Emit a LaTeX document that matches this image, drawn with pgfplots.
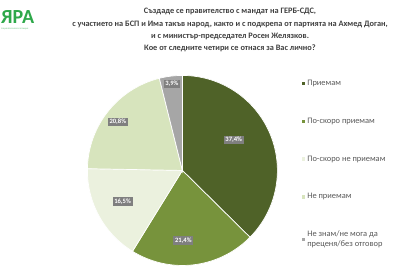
\documentclass[border=0pt]{standalone}
\usepackage{pgfplots}
\pgfplotsset{compat=1.18}
\usepackage{fontspec}
\setmainfont{Carlito}
\definecolor{c1}{HTML}{4F6228}
\definecolor{c2}{HTML}{77933C}
\definecolor{c3}{HTML}{EBF1DE}
\definecolor{c4}{HTML}{D7E4BD}
\definecolor{c5}{HTML}{A6A6A6}
\definecolor{lbl}{HTML}{7F7F7F}
\definecolor{ttl}{HTML}{404040}
\definecolor{leg}{HTML}{595959}
\definecolor{logo}{HTML}{2EA84A}
\begin{document}
\begin{tikzpicture}[x=1pt,y=1pt]
\clip (0,0) rectangle (393,274);
\fill[white] (0,0) rectangle (393,274);
% logo
\node[anchor=base west, text=logo, font=\fontsize{20}{20}\selectfont\bfseries, inner sep=0pt] at (1,250.5) {ЯРА};
\node[anchor=base east, text=logo, font=\fontsize{20}{20}\selectfont\bfseries, inner sep=0pt] at (1.5,250.5) {М};
\node[anchor=north west, text=logo!70, font=\fontsize{2.6}{3}\selectfont, inner sep=0pt] at (1,245.5) {социологическа агенция};
% title
\node[anchor=north, align=center, text=ttl, font=\fontsize{8.3}{12.4}\selectfont\bfseries, inner sep=0pt] at (230,266)
{Създаде се правителство с мандат на ГЕРБ-СДС,\\
с участието на БСП и Има такъв народ, както и с подкрепа от партията на Ахмед Доган,\\
и с министър-председател Росен Желязков.\\
Кое от следните четири се отнася за Вас лично?};
\begin{axis}[
  anchor=origin, at={(192,109)},
  x=95pt, y=95pt,
  xmin=-1.05, xmax=1.05, ymin=-1.05, ymax=1.05,
  hide axis, clip=false,
  legend style={draw=none, fill=none, at={(1.098,0.963)}, anchor=north west,
    font=\fontsize{8.4}{10}\selectfont, text=leg, row sep=26.8pt,
    cells={anchor=west, align=left}, inner sep=0pt},
  legend image code/.code={\fill[#1, draw=none] (0pt,-1.7pt) rectangle (3.4pt,1.7pt);},
]
\addplot[fill=c1, draw=white, line width=0.7pt, domain={90-3.6*37.4}:90, samples=80, variable=\t]
  ({cos(t)},{sin(t)}) -- (0,0) -- cycle;
\addlegendentry{Приемам}
\addplot[fill=c2, draw=white, line width=0.7pt, domain={90-3.6*58.8}:{90-3.6*37.4}, samples=60, variable=\t]
  ({cos(t)},{sin(t)}) -- (0,0) -- cycle;
\addlegendentry{По-скоро приемам}
\addplot[fill=c3, draw=white, line width=0.7pt, domain={90-3.6*75.3}:{90-3.6*58.8}, samples=50, variable=\t]
  ({cos(t)},{sin(t)}) -- (0,0) -- cycle;
\addlegendentry{По-скоро не приемам}
\addplot[fill=c4, draw=white, line width=0.7pt, domain={90-3.6*96.1}:{90-3.6*75.3}, samples=60, variable=\t]
  ({cos(t)},{sin(t)}) -- (0,0) -- cycle;
\addlegendentry{Не приемам}
\addplot[fill=c5, draw=white, line width=0.7pt, domain={90-3.6*100}:{90-3.6*96.1}, samples=20, variable=\t]
  ({cos(t)},{sin(t)}) -- (0,0) -- cycle;
\addlegendentry{Не знам/не мога да\\преценя/без отговор}
\addplot[forget plot, only marks, mark=none, point meta=explicit symbolic,
  nodes near coords,
  every node near coord/.append style={anchor=center, fill=lbl, text=white,
    font=\fontsize{6.6}{6.6}\selectfont\bfseries, inner sep=1.7pt}]
  table[meta=label] {
x y label
0.54 0.32 37,4\%
0.01 -0.74 21,4\%
-0.63 -0.33 16,5\%
-0.68 0.51 20,8\%
-0.11 0.91 3,9\%
};
\end{axis}
\end{tikzpicture}
\end{document}
